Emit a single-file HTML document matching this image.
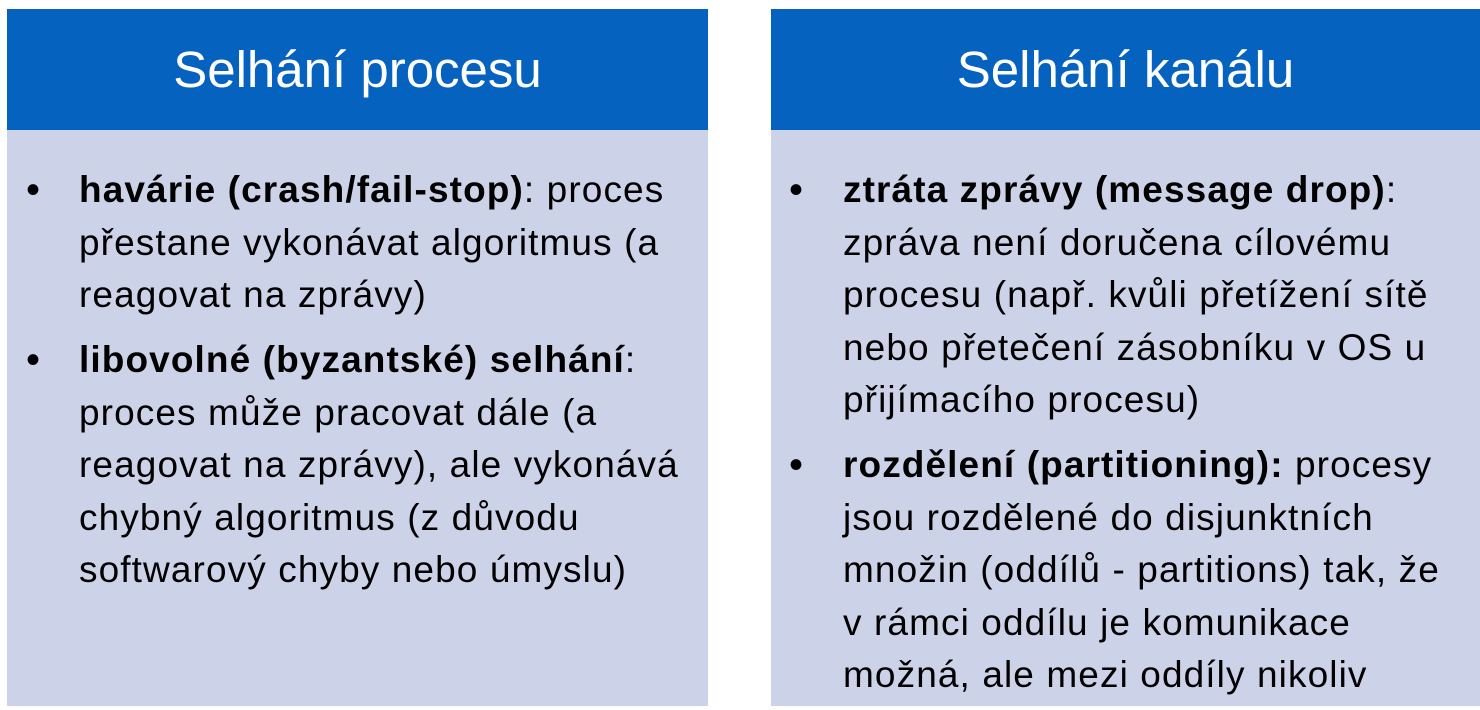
<!DOCTYPE html>
<html><head><meta charset="utf-8"><style>
body{margin:0;width:1480px;height:710px;background:#fff;position:relative;overflow:hidden;font-family:"Liberation Sans",sans-serif}
.p{position:absolute;background:#CCD3E8}
.h{position:absolute;background:#0563BF;color:#fff;font-size:51px;text-align:center;line-height:121px}
.l{position:absolute;font-size:37px;line-height:52px;white-space:nowrap;color:#000;letter-spacing:1.1px}
.b{position:absolute;font-size:40px;line-height:52px}
</style></head><body>
<div class="p" style="left:7px;top:9px;width:701px;height:697px"></div>
<div class="p" style="left:771px;top:9px;width:709px;height:697px"></div>
<div class="h" style="left:7px;top:9px;width:701px;height:121px">Selhání procesu</div>
<div class="h" style="left:771px;top:9px;width:709px;height:121px">Selhání kanálu</div>

<div class="b" style="left:26px;top:164px">•</div>
<div class="l" style="left:79px;top:164px"><b>havárie (crash/fail-stop)</b>: proces</div>
<div class="l" style="left:79px;top:217px">přestane vykonávat algoritmus (a</div>
<div class="l" style="left:79px;top:269px">reagovat na zprávy)</div>
<div class="b" style="left:26px;top:334px">•</div>
<div class="l" style="left:79px;top:334px"><b>libovolné (byzantské) selhání</b>:</div>
<div class="l" style="left:79px;top:387px">proces může pracovat dále (a</div>
<div class="l" style="left:79px;top:439px">reagovat na zprávy), ale vykonává</div>
<div class="l" style="left:79px;top:492px">chybný algoritmus (z důvodu</div>
<div class="l" style="left:79px;top:544px">softwarový chyby nebo úmyslu)</div>

<div class="b" style="left:789px;top:164px">•</div>
<div class="l" style="left:843px;top:164px"><b>ztráta zprávy (message drop)</b>:</div>
<div class="l" style="left:843px;top:217px">zpráva není doručena cílovému</div>
<div class="l" style="left:843px;top:269px">procesu (např. kvůli přetížení sítě</div>
<div class="l" style="left:843px;top:322px">nebo přetečení zásobníku v OS u</div>
<div class="l" style="left:843px;top:374px">přijímacího procesu)</div>
<div class="b" style="left:789px;top:439px">•</div>
<div class="l" style="left:843px;top:439px"><b>rozdělení (partitioning):</b> procesy</div>
<div class="l" style="left:843px;top:492px">jsou rozdělené do disjunktních</div>
<div class="l" style="left:843px;top:544px">množin (oddílů - partitions) tak, že</div>
<div class="l" style="left:843px;top:597px">v rámci oddílu je komunikace</div>
<div class="l" style="left:843px;top:649px">možná, ale mezi oddíly nikoliv</div>
</body></html>
